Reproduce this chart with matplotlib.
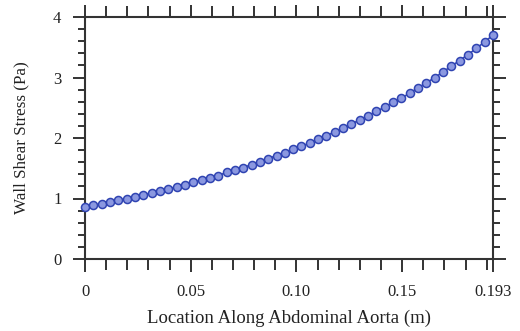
import numpy as np
import matplotlib.pyplot as plt
from matplotlib.ticker import FixedLocator, MultipleLocator

# Location along the aorta (m), 50 sample points from inlet to 0.193 m
location = np.linspace(0, 0.193, 50)

# Wall shear stress (Pa)
wss = [0.86, 0.89, 0.91, 0.94, 0.97, 1.00, 1.03, 1.06, 1.09, 1.12,
       1.16, 1.19, 1.23, 1.27, 1.30, 1.34, 1.38, 1.43, 1.47, 1.51,
       1.56, 1.61, 1.66, 1.71, 1.76, 1.81, 1.86, 1.92, 1.98, 2.04,
       2.10, 2.16, 2.23, 2.30, 2.37, 2.44, 2.51, 2.59, 2.66, 2.74,
       2.83, 2.91, 3.00, 3.09, 3.19, 3.28, 3.38, 3.48, 3.59, 3.70]

x_ticks = [0, 0.05, 0.10, 0.15, 0.193]
x_tick_labels = ['0', '0.05', '0.10', '0.15', '0.193']
y_ticks = [0, 1, 2, 3, 4]

plt.rcParams['font.family'] = ['Liberation Serif', 'DejaVu Serif']

fig = plt.figure(figsize=(5.2, 3.31), dpi=100)
ax = fig.add_axes([85 / 520, 1 - 259 / 331, 408 / 520, 242 / 331])

ax.plot(location, wss, color='#3347b8', linewidth=1.2, marker='o', markersize=5.8,
        markerfacecolor='#8b98e0', markeredgecolor='#3044b2', markeredgewidth=1.1,
        clip_on=False, zorder=3)

ax.set_xlim(0, 0.193)
ax.set_ylim(0, 4)

ax.xaxis.set_major_locator(FixedLocator(x_ticks))
ax.set_xticklabels(x_tick_labels)
ax.xaxis.set_minor_locator(FixedLocator(np.round(np.arange(0.01, 0.20, 0.01), 3)))
ax.yaxis.set_major_locator(FixedLocator(y_ticks))
ax.yaxis.set_minor_locator(MultipleLocator(0.2))

edge = '#333333'
for s in ax.spines.values():
    s.set_linewidth(1.5)
    s.set_color(edge)

ax.tick_params(axis='both', which='both', direction='out', color=edge, width=1.4,
               top=True, right=True, labelsize=12, labelcolor='#222222')
ax.tick_params(axis='x', which='major', length=9, pad=9)
ax.tick_params(axis='x', which='minor', length=8)
ax.tick_params(axis='y', which='major', length=9, pad=8)
ax.tick_params(axis='y', which='minor', length=5)

ax.set_xlabel('Location Along Abdominal Aorta (m)', fontsize=13.5, color='#222222', labelpad=7)
ax.set_ylabel('Wall Shear Stress (Pa)', fontsize=12.3, color='#222222', labelpad=17)

fig.savefig('out.png', dpi=100)
